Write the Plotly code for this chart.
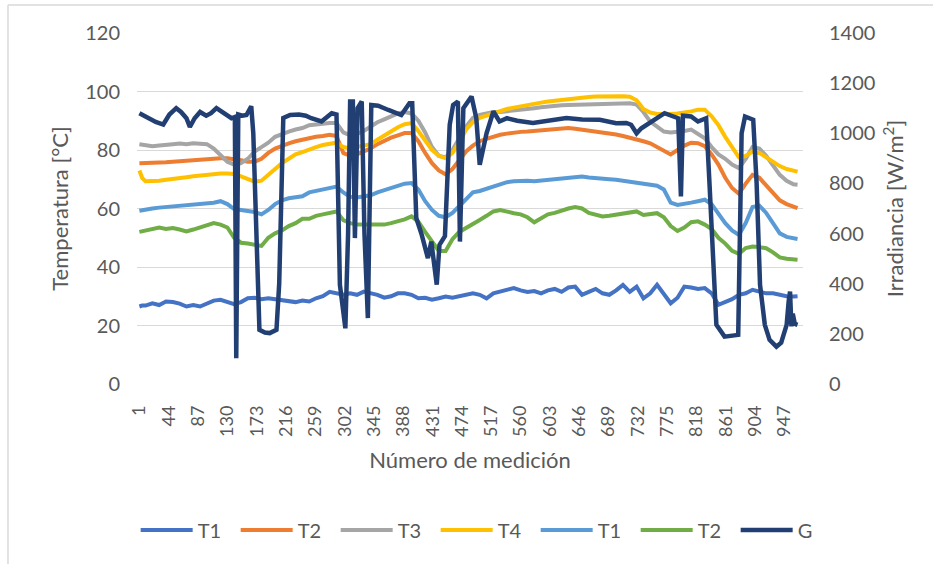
import plotly.graph_objects as go

# ---------------- data ----------------
# measurement numbers at which the temperature curves were read
m_temp = [1, 5, 10, 20, 30, 40, 50, 60, 70, 80, 90, 100, 110, 120, 130, 140, 150, 160, 170, 180,
          190, 200, 210, 220, 230, 240, 250, 260, 270, 280, 290, 300, 310, 320, 330, 340, 350, 360,
          370, 380, 390, 400, 410, 420, 430, 440, 450, 460, 470, 480, 490, 500, 510, 520, 530, 540,
          550, 560, 570, 580, 590, 600, 610, 620, 630, 640, 650, 660, 670, 680, 690, 700, 710, 720,
          730, 740, 750, 760, 770, 780, 790, 800, 810, 820, 830, 840, 850, 860, 870, 880, 890, 900,
          910, 920, 930, 940, 950, 960, 966]

T1 = [26.5, 26.8, 26.8, 27.6, 27.0, 28.2, 28.0, 27.5, 26.5, 27.0, 26.5, 27.5, 28.5, 28.8, 28.0, 27.3,
      28.0, 29.3, 29.5, 29.0, 29.3, 29.0, 28.5, 28.2, 28.0, 28.5, 28.2, 29.3, 30.0, 31.5, 31.0, 30.5,
      31.0, 30.5, 31.6, 31.0, 30.5, 29.5, 30.0, 31.0, 31.0, 30.5, 29.3, 29.5, 28.8, 29.3, 29.9, 29.5,
      30.0, 30.5, 31.0, 30.5, 29.3, 31.0, 31.5, 32.0, 32.8, 32.0, 31.5, 31.8, 31.0, 32.0, 32.5, 31.5,
      33.0, 33.3, 30.5, 31.5, 32.5, 31.0, 30.5, 32.0, 33.9, 31.5, 33.3, 29.3, 31.0, 33.9, 31.0, 27.6,
      29.5, 33.3, 33.0, 32.5, 32.8, 31.0, 27.1, 28.0, 29.0, 30.5, 31.0, 32.2, 31.5, 31.0, 31.0, 30.5,
      30.0, 29.9, 30.0]

T2 = [75.5, 75.5, 75.5, 75.6, 75.7, 75.8, 76.0, 76.2, 76.3, 76.5, 76.7, 76.9, 77.0, 77.2, 77.2, 77.0,
      76.5, 76.0, 76.0, 77.0, 79.0, 80.5, 81.5, 82.3, 83.0, 83.6, 84.0, 84.5, 84.8, 85.2, 84.8, 79.0,
      78.0, 78.5, 79.5, 80.5, 82.0, 83.2, 84.2, 85.0, 85.8, 85.8, 83.0, 79.0, 75.5, 73.0, 71.7, 73.5,
      76.5, 79.5, 81.5, 83.0, 83.8, 84.6, 85.2, 85.6, 86.0, 86.2, 86.3, 86.5, 86.8, 87.0, 87.2, 87.4,
      87.5, 87.3, 87.0, 86.7, 86.4, 86.1, 85.7, 85.3, 84.8, 84.3, 83.6, 83.0, 82.3, 81.0, 79.5, 78.5,
      80.0, 81.5, 82.5, 82.3, 81.3, 78.5, 75.0, 70.5, 67.0, 65.0, 68.5, 71.5, 70.5, 67.8, 65.0, 62.8,
      61.5, 60.4, 60.1]

T3 = [82.0, 81.8, 81.5, 81.3, 81.5, 81.6, 82.0, 82.2, 82.0, 82.3, 82.3, 82.0, 80.5, 78.0, 76.0, 75.0,
      75.5, 77.0, 79.5, 81.0, 82.5, 84.5, 85.5, 86.3, 87.0, 87.5, 88.5, 88.8, 89.0, 89.2, 89.2, 86.0,
      85.0, 85.5, 86.5, 88.0, 89.5, 90.5, 91.5, 92.5, 93.0, 92.5, 90.0, 86.0, 81.0, 78.0, 77.5, 80.0,
      84.0, 88.0, 91.0, 92.0, 92.5, 93.0, 93.0, 93.2, 93.5, 93.8, 94.0, 94.3, 94.6, 94.9, 95.1, 95.3,
      95.4, 95.5, 95.6, 95.7, 95.8, 95.9, 96.0, 96.0, 96.0, 96.0, 95.5, 93.0, 89.7, 88.0, 86.3, 86.0,
      86.2, 86.5, 87.0, 85.5, 84.0, 81.0, 78.5, 77.0, 75.0, 73.8, 77.0, 81.0, 80.5, 78.0, 75.0, 71.5,
      69.5, 68.3, 68.1]

T4 = [73.0, 70.5, 69.3, 69.3, 69.5, 69.8, 70.0, 70.3, 70.7, 71.0, 71.3, 71.5, 71.8, 72.0, 72.0, 71.8,
      71.0, 70.0, 69.2, 69.5, 71.5, 73.5, 75.5, 77.0, 78.5, 79.3, 80.3, 81.0, 81.7, 82.2, 82.5, 81.0,
      80.5, 81.0, 81.5, 82.0, 83.5, 85.0, 86.5, 87.8, 88.8, 89.2, 86.5, 83.0, 80.0, 78.0, 77.2, 79.0,
      82.5, 87.0, 89.5, 91.0, 91.8, 92.5, 93.2, 94.0, 94.5, 95.0, 95.4, 95.8, 96.2, 96.6, 96.9, 97.2,
      97.5, 97.7, 97.9, 98.1, 98.3, 98.4, 98.5, 98.5, 98.4, 98.2, 97.0, 94.0, 92.8, 92.3, 92.2, 92.3,
      92.5, 92.8, 93.2, 93.8, 93.8, 91.5, 88.5, 84.5, 81.0, 77.5, 78.0, 79.5, 79.0, 77.5, 76.0, 74.5,
      73.5, 72.8, 72.6]

T1b = [59.2, 59.3, 59.5, 60.0, 60.3, 60.5, 60.7, 60.8, 61.0, 61.3, 61.6, 61.8, 62.0, 62.5, 61.5, 59.8,
       59.5, 59.3, 58.8, 58.0, 59.5, 61.5, 62.8, 63.5, 64.0, 64.2, 65.5, 66.0, 66.5, 67.0, 67.5, 65.5,
       64.0, 63.8, 64.0, 64.5, 65.5, 66.3, 67.0, 67.8, 68.5, 68.7, 66.5, 62.5, 59.5, 57.5, 57.0, 58.5,
       61.0, 63.5, 65.5, 66.0, 66.8, 67.5, 68.3, 69.0, 69.3, 69.5, 69.5, 69.3, 69.5, 69.8, 70.0, 70.2,
       70.5, 70.7, 70.9, 70.6, 70.3, 70.2, 70.0, 69.8, 69.5, 69.3, 69.0, 68.7, 68.3, 67.8, 66.5, 62.0,
       61.2, 61.5, 62.0, 62.5, 63.0, 61.5, 58.0, 55.0, 52.5, 51.0, 55.0, 60.5, 61.0, 58.5, 55.0, 51.5,
       50.3, 49.8, 49.6]

T2b = [52.0, 52.2, 52.5, 53.0, 53.5, 53.0, 53.3, 52.8, 52.2, 52.8, 53.5, 54.2, 55.0, 54.5, 53.5, 50.0,
       48.3, 48.0, 47.5, 47.2, 50.0, 51.5, 52.5, 54.0, 55.0, 56.5, 56.5, 57.5, 58.0, 58.5, 59.0, 56.0,
       55.0, 54.5, 54.5, 54.3, 54.5, 54.5, 55.0, 55.5, 56.3, 57.3, 55.5, 52.0, 48.5, 45.5, 45.5, 49.5,
       52.0, 53.5, 55.0, 56.1, 57.5, 59.0, 59.5, 58.8, 58.4, 58.0, 57.0, 55.3, 56.5, 58.0, 58.5, 59.3,
       60.0, 60.5, 60.0, 58.5, 57.8, 57.3, 57.5, 57.8, 58.3, 58.7, 59.0, 57.8, 58.0, 58.4, 57.0, 54.0,
       52.3, 53.5, 55.3, 55.6, 54.5, 53.0, 50.0, 48.0, 45.5, 44.5, 46.5, 47.0, 46.8, 46.4, 45.0, 43.3,
       42.8, 42.5, 42.5]

# irradiance G (W/m2) read at its own measurement numbers (sharp transitions)
m_g = [1, 8, 16, 25, 36, 45, 55, 62, 70, 75, 82, 90, 99, 106, 114, 122, 129, 136, 141, 143, 146,
       152, 158, 165, 168, 177, 185, 192, 202, 206, 212, 222, 235, 245, 253, 268, 283, 290, 295, 300,
       303, 307, 310, 314, 317, 321, 327, 331, 336, 341, 351, 366, 385, 397, 401, 407, 415, 424, 429,
       437, 441, 449, 456, 461, 468, 471, 476, 488, 495, 500, 510, 520, 529, 540, 555, 578, 600, 627,
       650, 676, 700, 715, 722, 730, 737, 752, 771, 791, 795, 798, 810, 820, 832, 837, 842, 847, 859,
       879, 884, 889, 901, 906, 911, 918, 925, 935, 942, 950, 953, 955, 957, 959, 962, 966]

G = [1080, 1070, 1060, 1045, 1035, 1075, 1100, 1085, 1060, 1025, 1060, 1085, 1070, 1080, 1100, 1085,
     1070, 1060, 1065, 103, 1075, 1070, 1073, 1108, 1000, 216, 205, 203, 216, 400, 1061, 1073, 1075,
     1070, 1060, 1047, 1080, 1075, 396, 263, 222, 600, 1127, 1127, 582, 1100, 1127, 600, 263, 1113,
     1110, 1093, 1073, 1120, 1120, 662, 595, 502, 568, 396, 555, 590, 1034, 1113, 1127, 568, 1100,
     1147, 1060, 874, 1000, 1087, 1047, 1060, 1050, 1041, 1050, 1061, 1055, 1054, 1040, 1041, 1034,
     1000, 1020, 1047, 1080, 1060, 748, 1070, 1067, 1047, 1060, 794, 462, 236, 189, 196, 1000, 1067,
     1054, 800, 396, 236, 176, 149, 165, 236, 330, 369, 230, 280, 240, 236]

x_ticks = list(range(1, 967, 43))

names = ["T1", "T2", "T3", "T4", "T1", "T2", "G"]
colors = ["#4472C4", "#ED7D31", "#A5A5A5", "#FFC000", "#5B9BD5", "#70AD47", "#223F73"]

# ---------------- figure ----------------
FONT = "Lato"
TXT = "#595959"
GRID = "#d9d9d9"

fig = go.Figure()
temps = [T1, T2, T3, T4, T1b, T2b]
for i, series in enumerate(temps):
    fig.add_trace(go.Scatter(x=m_temp, y=series, mode="lines", name=names[i],
                             line=dict(color=colors[i], width=4), yaxis="y"))
fig.add_trace(go.Scatter(x=m_g, y=G, mode="lines", name=names[6],
                         line=dict(color=colors[6], width=4.5), yaxis="y2"))

fig.update_layout(
    width=933, height=564,
    margin=dict(l=137, r=130, t=33, b=180, autoexpand=False),
    paper_bgcolor="white", plot_bgcolor="white",
    font=dict(family=FONT, color=TXT, size=20),
    showlegend=True,
    legend=dict(orientation="h", x=-0.002, xanchor="left", y=-0.416, yanchor="middle",
                font=dict(size=20, color=TXT), itemwidth=52, tracegroupgap=0,
                entrywidth=33, entrywidthmode="pixels", bgcolor="rgba(0,0,0,0)"),
    xaxis=dict(range=[-2.5, 974], tickmode="array", tickvals=x_ticks,
               ticktext=[str(v) for v in x_ticks], tickangle=-90,
               tickfont=dict(size=18, color=TXT), showgrid=False, zeroline=False,
               showline=False, ticks="", ticklabelstandoff=17, automargin=False,
               title=dict(text="Número de medición", font=dict(size=22, color=TXT), standoff=16)),
    yaxis=dict(range=[0, 120], dtick=20, tickfont=dict(size=20, color=TXT),
               showgrid=True, gridcolor=GRID, gridwidth=1.3, zeroline=False,
               showline=False, ticks="", ticklabelstandoff=16, automargin=False,
               title=dict(text="Temperatura [°C]", font=dict(size=22, color=TXT), standoff=10)),
    yaxis2=dict(range=[0, 1400], dtick=200, overlaying="y", side="right",
                tickfont=dict(size=20, color=TXT), showgrid=False, zeroline=False,
                showline=False, ticks="", ticklabelstandoff=25, automargin=False,
                title=dict(text="Irradiancia [W/m<sup>2</sup>]", font=dict(size=22, color=TXT), standoff=13)),
)

# outer chart border (top and left visible in the crop)
fig.add_shape(type="line", xref="paper", yref="paper", x0=-0.1937, x1=1.21, y0=1.0798, y1=1.0798,
              line=dict(color="#d9d9d9", width=1.5))
fig.add_shape(type="line", xref="paper", yref="paper", x0=-0.1937, x1=-0.1937, y0=-0.52, y1=1.0798,
              line=dict(color="#d9d9d9", width=1.5))

# the page is photographed from its top-left corner: drop the default body margin
fig.write_html("out.html", config={"displayModeBar": False},
               post_script="document.body.style.margin='0px';")
